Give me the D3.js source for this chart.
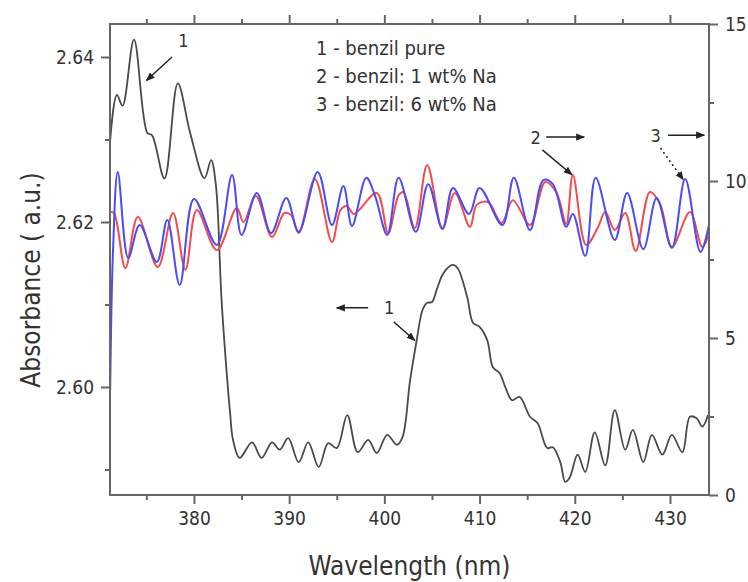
<!DOCTYPE html>
<html>
<head>
<meta charset="utf-8">
<script src="https://cdn.jsdelivr.net/npm/d3@7/dist/d3.min.js"></script>
<style>
  body { margin: 0; background: #fff; }
  text { font-family: "DejaVu Sans Condensed", "DejaVu Sans", sans-serif; fill: #333; }
</style>
</head>
<body>
<script>
// curve 1 - benzil pure (left axis, absorbance)
var pureWl = [371.2,371.9,372.5,373.7,375.1,375.6,376.9,378.3,379.6,381.1,381.8,382.3,382.9,383.5,383.8,384.1,
  384.8,386.1,387.1,388.2,389.0,389.9,391.0,392.0,393.1,394.1,395.0,396.1,397.2,398.3,399.2,400.3,401.3,401.9,
  402.7,403.4,404.0,404.5,405.0,405.5,406.2,407.2,407.7,408.7,409.3,410.0,410.8,411.4,412.1,412.7,413.4,414.2,
  415.3,416.1,417.1,417.7,418.5,419.0,419.5,420.3,421.1,422.1,423.2,424.2,425.3,426.1,427.2,428.1,429.2,430.2,
  431.3,432.1,432.8,433.4,434.0];
var pureAbs = [2.6299,2.6354,2.6341,2.6421,2.6308,2.6305,2.6253,2.6368,2.6308,2.6253,2.6275,2.6245,2.6105,2.6008,2.5968,2.5936,
  2.5914,2.5933,2.5914,2.5933,2.5924,2.5938,2.5909,2.5933,2.5903,2.5932,2.5926,2.5966,2.5921,2.5936,2.5920,2.5942,2.5930,2.5939,
  2.6008,2.6057,2.6093,2.6102,2.6103,2.6118,2.6138,2.6148,2.6144,2.6109,2.6078,2.6073,2.6057,2.6024,2.6017,2.6000,2.5984,2.5988,
  2.5964,2.5956,2.5926,2.5927,2.5908,2.5885,2.5891,2.5918,2.5897,2.5945,2.5905,2.5972,2.5924,2.5948,2.5909,2.5942,2.5918,2.5942,
  2.5921,2.5964,2.5962,2.5952,2.5966];

// curve 2 - benzil: 1 wt% Na (right axis)
var na1Wl = [371.2,371.6,372.8,374.1,376.2,377.8,379.1,380.3,382.4,384.5,385.2,386.5,388.2,389.5,390.2,391.0,392.7,394.5,
  395.4,396.1,396.8,399.2,400.4,401.5,402.0,403.2,404.5,406.1,407.4,409.0,409.7,410.9,412.3,413.5,415.3,416.9,418.1,
  419.1,419.8,421.2,422.4,423.2,424.2,425.3,426.4,427.9,429.0,430.2,432.1,433.4,434.2];
var na1Val = [9.01,8.98,7.23,8.85,7.26,8.98,7.17,9.08,7.80,9.14,8.69,9.52,8.22,8.98,8.92,8.34,10.06,8.06,
  9.08,9.20,8.95,9.62,8.34,9.55,9.65,8.50,10.51,8.50,9.62,8.54,9.24,9.33,8.66,9.39,8.60,9.97,9.62,
  8.63,10.19,7.96,8.50,9.01,8.44,8.98,7.77,9.65,9.24,7.90,9.01,7.90,8.44];

// curve 3 - benzil: 6 wt% Na (right axis)
var na6Wl = [371.2,371.5,372.0,373.1,374.3,376.1,377.2,378.5,380.0,382.4,384.0,385.0,386.6,388.1,389.7,391.0,393.0,394.5,
  395.7,396.6,398.1,399.0,400.3,401.5,403.3,404.6,406.1,407.2,408.9,410.0,412.4,413.6,415.3,416.7,417.7,419.1,419.8,
  421.1,422.2,424.2,425.5,427.2,428.6,430.2,431.6,433.2,434.1];
var na6Val = [3.34,7.80,10.29,7.55,8.60,7.42,8.76,6.69,9.43,7.96,10.19,8.28,9.62,8.34,9.46,8.38,10.29,8.60,
  9.84,8.57,10.10,9.55,8.28,10.10,8.38,9.90,8.47,9.78,8.95,9.78,8.60,10.10,8.44,10.03,9.90,8.54,8.95,
  7.61,10.10,8.12,9.62,7.83,9.46,7.87,10.06,7.74,8.60];

var xMajor = [380, 390, 400, 410, 420, 430];
var xMinor = [375, 385, 395, 405, 415, 425];
var leftMajor = [2.60, 2.62, 2.64];
var leftMinor = [2.59, 2.61, 2.63];
var rightMajor = [0, 5, 10, 15];
var rightMinor = [2.5, 7.5, 12.5];

var legendLines = ["1 - benzil pure", "2 - benzil: 1 wt% Na", "3 - benzil: 6 wt% Na"];

var W = 748, H = 582;
var L = 110, T = 24, R = 709, B = 495;

var svg = d3.select("body").append("svg").attr("width", W).attr("height", H);

var x = d3.scaleLinear().domain([371.18, 434.1]).range([L, R]);
var yL = d3.scaleLinear().domain([2.58691, 2.64400]).range([B, T]);
var yR = d3.scaleLinear().domain([0, 15]).range([B, T]);

svg.append("clipPath").attr("id", "clip")
  .append("rect").attr("x", L).attr("y", T).attr("width", R - L).attr("height", B - T);

var plot = svg.append("g").attr("clip-path", "url(#clip)");

function series(wl, vals, ys) {
  return wl.map(function (w, i) { return [x(w), ys(vals[i])]; });
}
var line = d3.line().curve(d3.curveCatmullRom.alpha(0.5));

plot.append("path").attr("d", line(series(pureWl, pureAbs, yL)))
  .attr("fill", "none").attr("stroke", "#4a4a4a").attr("stroke-width", 1.8);
plot.append("path").attr("d", line(series(na1Wl, na1Val, yR)))
  .attr("fill", "none").attr("stroke", "#f24c4c").attr("stroke-width", 2);
plot.append("path").attr("d", line(series(na6Wl, na6Val, yR)))
  .attr("fill", "none").attr("stroke", "#4c4cf4").attr("stroke-width", 2);

// axes
var axColor = "#666";
function styleAxis(g) {
  g.select(".domain").remove();
  g.selectAll("line").attr("stroke", axColor).attr("stroke-width", 2);
  g.selectAll("text").style("font-size", "19px").attr("fill", "#333");
}
var noLab = function () { return ""; };

svg.append("g").attr("transform", "translate(0," + B + ")")
  .call(d3.axisBottom(x).tickValues(xMajor).tickSize(9).tickPadding(8).tickFormat(d3.format("d"))).call(styleAxis);
svg.append("g").attr("transform", "translate(0," + B + ")")
  .call(d3.axisBottom(x).tickValues(xMinor).tickSize(5).tickFormat(noLab)).call(styleAxis);
svg.append("g").attr("transform", "translate(0," + T + ")")
  .call(d3.axisTop(x).tickValues(xMajor).tickSize(9).tickFormat(noLab)).call(styleAxis);
svg.append("g").attr("transform", "translate(0," + T + ")")
  .call(d3.axisTop(x).tickValues(xMinor).tickSize(5).tickFormat(noLab)).call(styleAxis);

svg.append("g").attr("transform", "translate(" + L + ",0)")
  .call(d3.axisLeft(yL).tickValues(leftMajor).tickSize(9).tickPadding(7).tickFormat(d3.format(".2f"))).call(styleAxis);
svg.append("g").attr("transform", "translate(" + L + ",0)")
  .call(d3.axisLeft(yL).tickValues(leftMinor).tickSize(5).tickFormat(noLab)).call(styleAxis);

svg.append("g").attr("transform", "translate(" + R + ",0)")
  .call(d3.axisRight(yR).tickValues(rightMajor).tickSize(9).tickPadding(7).tickFormat(d3.format("d"))).call(styleAxis);
svg.append("g").attr("transform", "translate(" + R + ",0)")
  .call(d3.axisRight(yR).tickValues(rightMinor).tickSize(5).tickFormat(noLab)).call(styleAxis);

svg.append("rect").attr("x", L).attr("y", T).attr("width", R - L).attr("height", B - T)
  .attr("fill", "none").attr("stroke", axColor).attr("stroke-width", 2);

// axis titles
svg.append("text").attr("x", (L + R) / 2).attr("y", 575).attr("text-anchor", "middle")
  .style("font-size", "26px").text("Wavelength (nm)");
svg.append("text").attr("transform", "translate(40,280) rotate(-90)").attr("text-anchor", "middle")
  .style("font-size", "26px").text("Absorbance ( a.u.)");

// legend text
svg.selectAll(".leg").data(legendLines).enter().append("text")
  .attr("x", 316).attr("y", function (d, i) { return 55 + i * 28; })
  .style("font-size", "20px").text(function (d) { return d; });

// annotations (wavelength, right-axis units)
var defs = svg.append("defs");
defs.append("marker").attr("id", "head").attr("viewBox", "0 0 10 10").attr("refX", 9).attr("refY", 5)
  .attr("markerWidth", 9).attr("markerHeight", 9).attr("orient", "auto").attr("markerUnits", "userSpaceOnUse")
  .append("path").attr("d", "M0,1 L10,5 L0,9 Z").attr("fill", "#222");

var annLabels = [
  {t: "1", w: 378.9, v: 14.28},
  {t: "1", w: 400.5, v: 5.76},
  {t: "2", w: 415.9, v: 11.18},
  {t: "3", w: 428.5, v: 11.24}
];
var annArrows = [
  {w1: 377.7, v1: 13.95, w2: 375.0, v2: 13.20, dash: null},
  {w1: 398.3, v1: 5.96, w2: 395.0, v2: 5.96, dash: null},
  {w1: 401.0, v1: 5.51, w2: 403.2, v2: 4.92, dash: null},
  {w1: 417.0, v1: 11.40, w2: 421.0, v2: 11.40, dash: null},
  {w1: 416.6, v1: 10.99, w2: 419.7, v2: 10.20, dash: null},
  {w1: 429.8, v1: 11.46, w2: 433.6, v2: 11.46, dash: null},
  {w1: 429.0, v1: 11.05, w2: 431.4, v2: 10.04, dash: "2,3"}
];
svg.selectAll(".annl").data(annLabels).enter().append("text")
  .attr("x", function (d) { return x(d.w); }).attr("y", function (d) { return yR(d.v); })
  .attr("text-anchor", "middle").style("font-size", "18px").text(function (d) { return d.t; });
svg.selectAll(".anna").data(annArrows).enter().append("line")
  .attr("x1", function (d) { return x(d.w1); }).attr("y1", function (d) { return yR(d.v1); })
  .attr("x2", function (d) { return x(d.w2); }).attr("y2", function (d) { return yR(d.v2); })
  .attr("stroke", "#222").attr("stroke-width", 1.5)
  .attr("stroke-dasharray", function (d) { return d.dash; })
  .attr("marker-end", "url(#head)");
</script>
</body>
</html>
